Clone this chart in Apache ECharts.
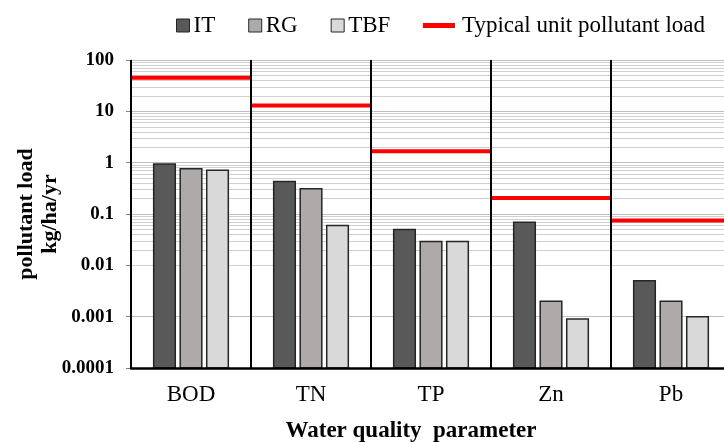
<!DOCTYPE html>
<html>
<head>
<meta charset="utf-8">
<script src="https://cdn.jsdelivr.net/npm/echarts@6/dist/echarts.min.js"></script>
<style>
  html, body { margin: 0; padding: 0; background: #fff; }
  #chart { width: 724px; height: 442px; }
</style>
</head>
<body>
<div id="chart"></div>
<script>
  // categories and values
  const categories = ['BOD', 'TN', 'TP', 'Zn', 'Pb']
  const itData = [0.94, 0.43, 0.05, 0.069, 0.005]
  const rgData = [0.76, 0.31, 0.029, 0.002, 0.002]
  const tbfData = [0.71, 0.06, 0.029, 0.0009, 0.001]
  const typicalLoad = [45, 13, 1.66, 0.206, 0.075]
  const yTicks = [0.0001, 0.001, 0.01, 0.1, 1, 10, 100]

  const font = '"Liberation Serif", "Times New Roman", serif'
  const yMin = yTicks[0]
  const yMax = yTicks[yTicks.length - 1]

  // minor grid lines 2..9 inside every decade
  let minorLines = []
  for (let k = 0; k < yTicks.length - 1; k++) {
    for (let m = 2; m <= 9; m++) {
      minorLines.push({yAxis: m * yTicks[k]})
    }
  }

  function barSeries(name, data, idx, color) {
    return {
      name: name,
      type: 'custom',
      data: data.map((v, i) => [i, v]),
      itemStyle: {color: color, borderColor: '#262626', borderWidth: 1.5},
      renderItem: function (params, api) {
        let band = api.size([1, 0])[0]
        let w = band * 0.18
        let step = band * 0.221
        let top = api.coord([api.value(0), api.value(1)])
        let base = api.coord([api.value(0), yMin])
        let cx = top[0] + (idx - 1) * step
        return {
          type: 'rect',
          shape: {x: cx - w / 2, y: top[1], width: w, height: base[1] - top[1]},
          style: {fill: color, stroke: '#262626', lineWidth: 1.5}
        }
      },
      z: 5
    }
  }

  let chart = echarts.init(document.getElementById('chart'))

  let option = {
    animation: false,
    backgroundColor: '#fff',
    textStyle: {fontFamily: font},
    legend: [
      {
        left: 176,
        top: 14,
        padding: 0,
        itemWidth: 13,
        itemHeight: 13,
        itemGap: 33,
        textStyle: {fontFamily: font, fontSize: 23, color: '#000', padding: [0, 0, 0, -1]},
        data: [
          {name: 'IT', icon: 'rect', itemStyle: {color: '#595959', borderColor: '#262626', borderWidth: 1}},
          {name: 'RG', icon: 'rect', itemStyle: {color: '#aeaaaa', borderColor: '#262626', borderWidth: 1}},
          {name: 'TBF', icon: 'rect', itemStyle: {color: '#d9d9d9', borderColor: '#262626', borderWidth: 1}}
        ]
      },
      {
        left: 423,
        top: 14,
        padding: 0,
        itemWidth: 32,
        itemHeight: 5,
        textStyle: {fontFamily: font, fontSize: 23, color: '#000', padding: [0, 0, 0, 2]},
        data: [{name: 'Typical unit pollutant load', icon: 'rect', itemStyle: {color: '#ff0000'}}]
      }
    ],
    grid: {
      left: 131,
      top: 60,
      width: 600,
      bottom: 74,
      outerBoundsMode: 'none'
    },
    xAxis: {
      type: 'category',
      data: categories,
      boundaryGap: true,
      axisLine: {show: true, lineStyle: {color: '#000', width: 2.5}},
      axisTick: {show: false},
      axisLabel: {fontFamily: font, fontSize: 23, color: '#000', margin: 15},
      splitLine: {show: true, interval: 0, lineStyle: {color: '#000', width: 2}},
      z: 10
    },
    yAxis: {
      type: 'log',
      logBase: 10,
      min: yMin,
      max: yMax,
      interval: 1,
      name: 'pollutant load\nkg/ha/yr',
      nameLocation: 'middle',
      nameRotate: 90,
      nameGap: 69,
      nameMoveOverlap: false,
      nameTextStyle: {fontFamily: font, fontSize: 22, fontWeight: 'bold', color: '#000', lineHeight: 24},
      axisLine: {show: true, lineStyle: {color: '#808080', width: 1}},
      axisTick: {show: true, length: 5, lineStyle: {color: '#808080'}},
      axisLabel: {
        fontFamily: font, fontSize: 19, fontWeight: 'bold', color: '#000', margin: 17,
        formatter: v => String(Number(v.toPrecision(1)))
      },
      splitLine: {show: true, lineStyle: {color: '#bfbfbf', width: 1}}
    },
    graphic: [
      {
        type: 'text',
        x: 411,
        y: 431,
        style: {
          text: 'Water quality  parameter', font: 'bold 23px ' + font, fill: '#000',
          align: 'center', verticalAlign: 'middle'
        }
      }
    ],
    series: [
      {
        name: 'minor',
        type: 'line',
        data: [],
        silent: true,
        markLine: {
          silent: true,
          symbol: 'none',
          label: {show: false},
          lineStyle: {color: '#d0d0d0', type: 'solid', width: 1},
          data: minorLines
        },
        z: 1
      },
      barSeries('IT', itData, 0, '#595959'),
      barSeries('RG', rgData, 1, '#aeaaaa'),
      barSeries('TBF', tbfData, 2, '#d9d9d9'),
      {
        name: 'Typical unit pollutant load',
        type: 'custom',
        data: typicalLoad.map((v, i) => [i, v]),
        itemStyle: {color: '#ff0000'},
        renderItem: function (params, api) {
          let band = api.size([1, 0])[0]
          let p = api.coord([api.value(0), api.value(1)])
          return {
            type: 'line',
            shape: {x1: p[0] - band / 2, y1: p[1], x2: p[0] + band / 2, y2: p[1]},
            style: {stroke: '#ff0000', lineWidth: 4}
          }
        },
        z: 6
      }
    ]
  }

  chart.setOption(option)
</script>
</body>
</html>
